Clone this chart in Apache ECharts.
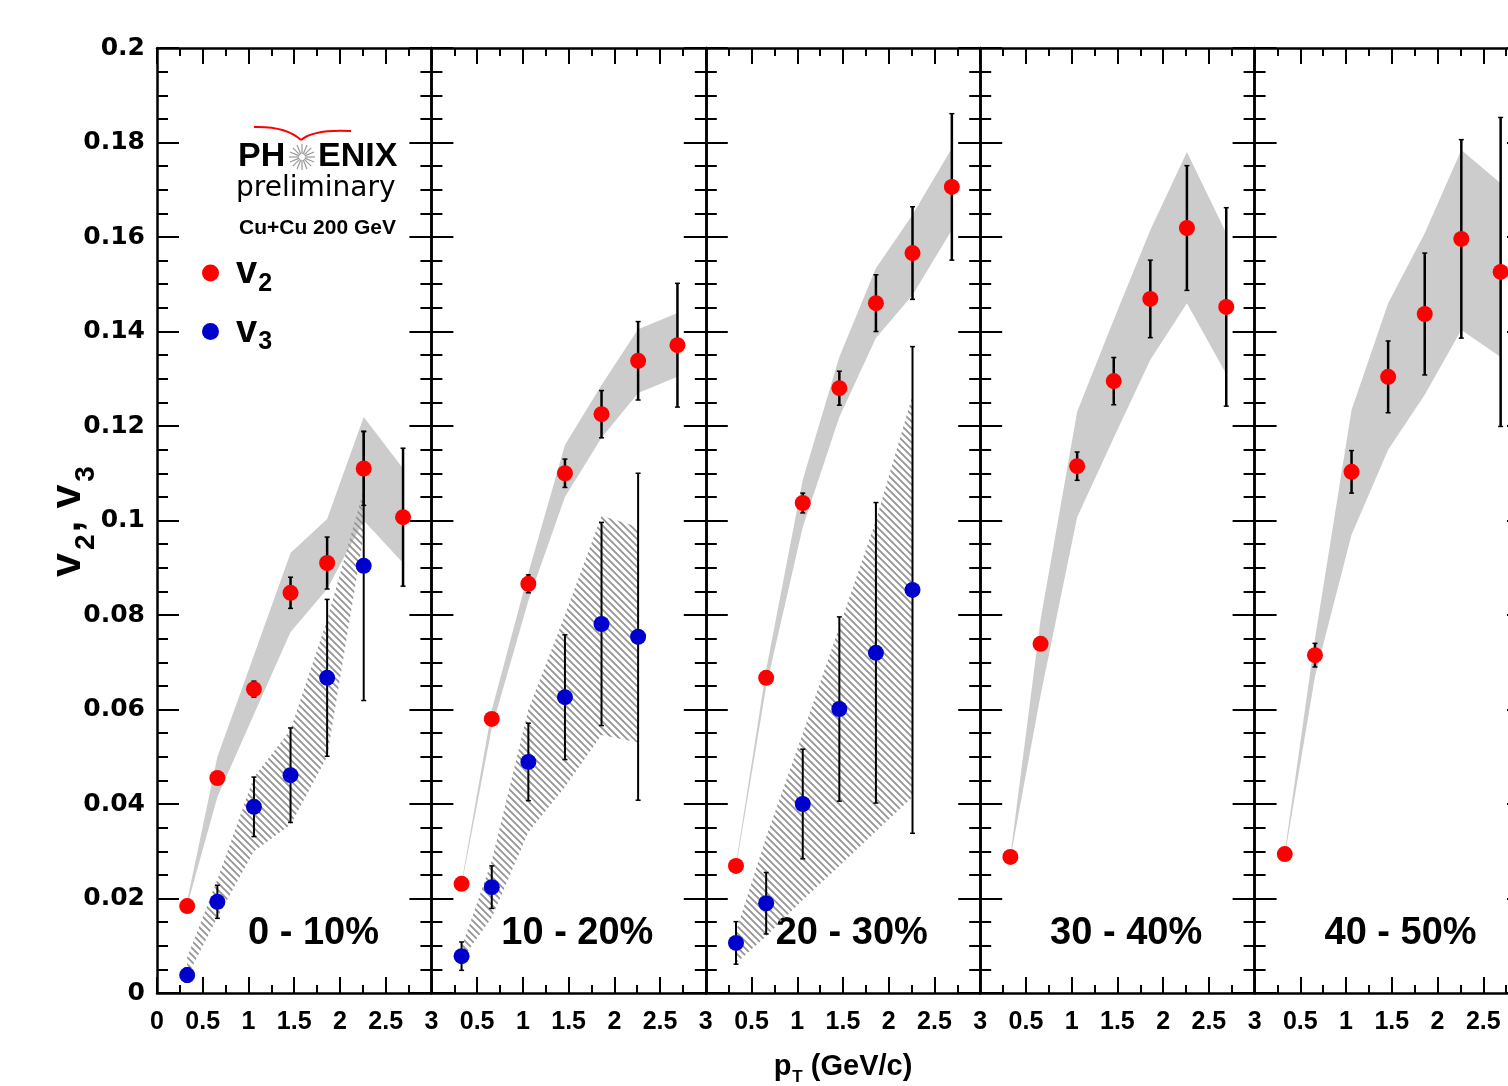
<!DOCTYPE html>
<html>
<head>
<meta charset="utf-8">
<script src="https://cdn.jsdelivr.net/npm/echarts@6/dist/echarts.min.js"></script>
<style>
  html, body { margin: 0; padding: 0; background: #fff; }
  #chart { width: 1508px; height: 1086px; }
</style>
</head>
<body>
<div id="chart"></div>
<script>
// pT bin centres (GeV/c), shared by all centrality classes
const PT = [0.33, 0.66, 1.06, 1.46, 1.86, 2.26, 2.69];
const CENTRALITY = ['0 - 10%', '10 - 20%', '20 - 30%', '30 - 40%', '40 - 50%'];

// v2 points, stat errors and systematic band, one row per centrality
const V2 = [
  [0.0184, 0.0455, 0.0643, 0.0847, 0.0910, 0.1110, 0.1007],
  [0.0231, 0.0580, 0.0866, 0.1100, 0.1225, 0.1338, 0.1371],
  [0.0269, 0.0667, 0.1037, 0.1280, 0.1460, 0.1566, 0.1706],
  [0.0288, 0.0739, 0.1115, 0.1295, 0.1469, 0.1619, 0.1452],
  [0.0294, 0.0715, 0.1103, 0.1304, 0.1437, 0.1596, 0.1526]
];
const V2_ERR = [
  [0.0010, 0.0010, 0.0017, 0.0033, 0.0055, 0.0078, 0.0146],
  [0.0010, 0.0010, 0.0019, 0.0030, 0.0050, 0.0083, 0.0131],
  [0.0010, 0.0010, 0.0021, 0.0036, 0.0060, 0.0098, 0.0155],
  [0.0010, 0.0010, 0.0030, 0.0050, 0.0082, 0.0132, 0.0210],
  [0.0010, 0.0025, 0.0045, 0.0076, 0.0129, 0.0210, 0.0327]
];
const V2_SYS_LO = [
  [0.0185, 0.0415, 0.0590, 0.0764, 0.0855, 0.1000, 0.0910],
  [0.0228, 0.0561, 0.0830, 0.1050, 0.1175, 0.1270, 0.1304],
  [0.0265, 0.0648, 0.0986, 0.1219, 0.1386, 0.1477, 0.1615],
  [0.0285, 0.0630, 0.1007, 0.1175, 0.1340, 0.1460, 0.1310],
  [0.0290, 0.0670, 0.0970, 0.1150, 0.1266, 0.1403, 0.1346]
];
const V2_SYS_HI = [
  [0.0195, 0.0500, 0.0715, 0.0931, 0.1003, 0.1219, 0.1110],
  [0.0234, 0.0599, 0.0889, 0.1160, 0.1287, 0.1405, 0.1439],
  [0.0273, 0.0684, 0.1086, 0.1346, 0.1534, 0.1647, 0.1788],
  [0.0291, 0.0790, 0.1230, 0.1425, 0.1615, 0.1780, 0.1608],
  [0.0298, 0.0750, 0.1234, 0.1460, 0.1608, 0.1784, 0.1714]
];

// v3 (only measured in the three most central classes)
const V3 = [
  [0.0038, 0.0193, 0.0394, 0.0461, 0.0667, 0.0904],
  [0.0078, 0.0224, 0.0489, 0.0626, 0.0781, 0.0754],
  [0.0106, 0.0190, 0.0400, 0.0601, 0.0720, 0.0853]
];
const V3_ERR = [
  [0.0015, 0.0035, 0.0063, 0.0100, 0.0166, 0.0285],
  [0.0030, 0.0045, 0.0082, 0.0132, 0.0215, 0.0346],
  [0.0045, 0.0065, 0.0116, 0.0195, 0.0318, 0.0515]
];
const V3_SYS_LO = [
  [0.0035, 0.0160, 0.0300, 0.0356, 0.0500, 0.0970],
  [0.0070, 0.0160, 0.0340, 0.0436, 0.0546, 0.0530],
  [0.0063, 0.0120, 0.0197, 0.0269, 0.0342, 0.0415]
];
const V3_SYS_HI = [
  [0.0075, 0.0240, 0.0457, 0.0557, 0.0790, 0.1065],
  [0.0097, 0.0280, 0.0600, 0.0800, 0.1010, 0.0986],
  [0.0130, 0.0330, 0.0550, 0.0775, 0.1000, 0.1265]
];

const PANEL_LEFT = 157;
const PANEL_W = 274.4;
const PANEL_TOP = 48;
const PANEL_H = 945;

const RED = '#ff0000';
const BLUE = '#0000cc';
const BAND_GRAY = '#cccccc';
const BOLD = '"Liberation Sans", Arial, sans-serif';

// hatch pattern for the v3 systematic band
const hatch = document.createElement('canvas');
hatch.width = 7;
hatch.height = 7;
(function () {
  const ctx = hatch.getContext('2d');
  ctx.strokeStyle = '#959595';
  ctx.lineWidth = 1.8;
  ctx.beginPath();
  ctx.moveTo(-1, -1); ctx.lineTo(8, 8);
  ctx.moveTo(-8, -1); ctx.lineTo(1, 8);
  ctx.moveTo(6, -1); ctx.lineTo(15, 8);
  ctx.stroke();
})();

const chart = echarts.init(document.getElementById('chart'));

const axisLine = { onZero: false, lineStyle: { color: '#000', width: 2.5 } };

function bandSeries(i, lo, hi, fill, z) {
  const n = lo.length;
  return {
    type: 'custom',
    xAxisIndex: 2 * i,
    yAxisIndex: 2 * i,
    z,
    silent: true,
    data: lo.map((v, k) => [PT[k], v, hi[k]]),
    renderItem: (params, api) => {
      if (params.dataIndex !== 0) return null;
      const pts = [];
      for (let k = 0; k < n; k++) pts.push(api.coord([api.value(0, k), api.value(2, k)]));
      for (let k = n - 1; k >= 0; k--) pts.push(api.coord([api.value(0, k), api.value(1, k)]));
      return { type: 'polygon', shape: { points: pts }, style: { fill, stroke: null } };
    }
  };
}

function errorSeries(i, vals, errs, width, z) {
  return {
    type: 'custom',
    xAxisIndex: 2 * i,
    yAxisIndex: 2 * i,
    z,
    silent: true,
    data: vals.map((v, k) => [PT[k], v, errs[k]]),
    renderItem: (params, api) => {
      const x = api.value(0), y = api.value(1), e = api.value(2);
      const top = api.coord([x, y + e]);
      const bot = api.coord([x, y - e]);
      const c = 2.5;
      const s = { stroke: '#000', lineWidth: 1.5 };
      return {
        type: 'group',
        children: [
          { type: 'line', shape: { x1: top[0], y1: top[1], x2: bot[0], y2: bot[1] }, style: { stroke: '#000', lineWidth: width } },
          { type: 'line', shape: { x1: top[0] - c, y1: top[1], x2: top[0] + c, y2: top[1] }, style: s },
          { type: 'line', shape: { x1: bot[0] - c, y1: bot[1], x2: bot[0] + c, y2: bot[1] }, style: s }
        ]
      };
    }
  };
}

function pointSeries(i, name, vals, color) {
  return {
    type: 'scatter',
    name,
    xAxisIndex: 2 * i,
    yAxisIndex: 2 * i,
    z: 10,
    symbol: 'circle',
    symbolSize: 16,
    itemStyle: { color, opacity: 1 },
    data: vals.map((v, k) => [PT[k], v])
  };
}

const grids = [];
const xAxes = [];
const yAxes = [];
const series = [];
const graphics = [];

CENTRALITY.forEach((label, i) => {
  const left = PANEL_LEFT + i * PANEL_W;
  grids.push({ left, top: PANEL_TOP, width: PANEL_W, height: PANEL_H, outerBoundsMode: 'none', containLabel: false });

  const xBase = {
    gridIndex: i, type: 'value', min: 0, max: 3, interval: 0.5,
    axisLine,
    axisTick: { inside: true, length: 16, lineStyle: { color: '#000', width: 2 } },
    minorTick: { show: true, splitNumber: 2, length: 8, lineStyle: { color: '#000', width: 2 } },
    splitLine: { show: false }
  };
  xAxes.push(Object.assign({}, xBase, {
    position: 'bottom',
    axisLabel: {
      margin: 17,
      color: '#000',
      fontFamily: '"Liberation Sans Narrow", "Liberation Sans", Arial, sans-serif',
      fontWeight: 'bold',
      fontSize: 25,
      formatter: v => (i > 0 && v === 0) ? '' : String(v)
    },
    name: i === 2 ? '{p|p}{s|T}{p| (GeV/c)}' : '',
    nameLocation: 'middle',
    nameGap: 54,
    nameTextStyle: {
      rich: {
        p: { fontFamily: BOLD, fontWeight: 'bold', fontSize: 29, color: '#000' },
        s: { fontFamily: BOLD, fontWeight: 'bold', fontSize: 17, color: '#000', padding: [22, 0, 0, 1] }
      }
    }
  }));
  xAxes.push(Object.assign({}, xBase, { position: 'top', axisLabel: { show: false } }));

  const yBase = {
    gridIndex: i, type: 'value', min: 0, max: 0.2, interval: 0.02,
    axisLine,
    axisTick: { inside: true, length: 22, lineStyle: { color: '#000', width: 2 } },
    minorTick: { show: true, splitNumber: 4, length: 11, lineStyle: { color: '#000', width: 2 } },
    splitLine: { show: false }
  };
  yAxes.push(Object.assign({}, yBase, {
    position: 'left',
    axisLabel: {
      show: i === 0,
      margin: 12,
      color: '#000',
      fontFamily: '"DejaVu Sans", Verdana, sans-serif',
      fontWeight: 'bold',
      fontSize: 25
    },
    name: i === 0 ? '{v|v}{s|2}{v|, v}{s|3}' : '',
    nameLocation: 'middle',
    nameRotate: 90,
    nameGap: 57,
    nameMoveOverlap: false,
    nameTextStyle: {
      rich: {
        v: { fontFamily: BOLD, fontWeight: 'bold', fontSize: 43, color: '#000' },
        s: { fontFamily: BOLD, fontWeight: 'bold', fontSize: 28, color: '#000', padding: [36, 2, 0, 3] }
      }
    }
  }));
  yAxes.push(Object.assign({}, yBase, { position: 'right', axisLabel: { show: false } }));

  series.push(bandSeries(i, V2_SYS_LO[i], V2_SYS_HI[i], BAND_GRAY, 1));
  if (i < V3.length) {
    series.push(bandSeries(i, V3_SYS_LO[i], V3_SYS_HI[i], { image: hatch, repeat: 'repeat' }, 2));
    series.push(errorSeries(i, V3[i], V3_ERR[i], 2, 4));
  }
  series.push(errorSeries(i, V2[i], V2_ERR[i], 2.5, 3));
  series.push(pointSeries(i, 'v2', V2[i], RED));
  if (i < V3.length) series.push(pointSeries(i, 'v3', V3[i], BLUE));

  graphics.push({
    type: 'text',
    x: left + 222,
    y: 934,
    style: {
      text: label,
      font: 'bold 38px ' + BOLD,
      fill: '#000',
      textAlign: 'right', align: 'right',
      textVerticalAlign: 'middle', verticalAlign: 'middle'
    }
  });
});

// PHENIX logo starburst
const starRays = [];
for (let k = 0; k < 16; k++) {
  const a = k * Math.PI / 8;
  starRays.push({
    type: 'line',
    shape: { x1: 302 + 3 * Math.cos(a), y1: 157 + 3 * Math.sin(a), x2: 302 + 13 * Math.cos(a), y2: 157 + 13 * Math.sin(a) },
    style: { stroke: '#9a9a9a', lineWidth: 1.2 }
  });
}

graphics.push(
  { type: 'bezierCurve', shape: { x1: 254, y1: 127, cpx1: 286, cpy1: 126, x2: 301, y2: 140 }, style: { stroke: RED, lineWidth: 2, fill: null } },
  { type: 'bezierCurve', shape: { x1: 301, y1: 140, cpx1: 314, cpy1: 129, x2: 351, y2: 131 }, style: { stroke: RED, lineWidth: 2, fill: null } },
  { type: 'group', children: starRays },
  { type: 'text', x: 238, y: 157, style: { text: 'PH', font: 'bold 34px ' + BOLD, fill: '#000', textVerticalAlign: 'middle', verticalAlign: 'middle' } },
  { type: 'text', x: 318, y: 157, style: { text: 'ENIX', font: 'bold 34px ' + BOLD, fill: '#000', textVerticalAlign: 'middle', verticalAlign: 'middle' } },
  { type: 'text', x: 236, y: 189, style: { text: 'preliminary', font: '28px "DejaVu Sans", Verdana, sans-serif', fill: '#000', textVerticalAlign: 'middle', verticalAlign: 'middle' } },
  { type: 'text', x: 239, y: 228, style: { text: 'Cu+Cu 200 GeV', font: 'bold 21px ' + BOLD, fill: '#000', textVerticalAlign: 'middle', verticalAlign: 'middle' } }
);

chart.setOption({
  animation: false,
  backgroundColor: '#fff',
  grid: grids,
  xAxis: xAxes,
  yAxis: yAxes,
  legend: {
    data: ['v2', 'v3'],
    orient: 'vertical',
    left: 197,
    top: 249,
    itemWidth: 17,
    itemHeight: 17,
    itemGap: 16,
    icon: 'circle',
    selectedMode: false,
    formatter: name => '{v|v}{s|' + name.slice(1) + '}',
    textStyle: {
      padding: [0, 0, 0, 12],
      rich: {
        v: { fontFamily: BOLD, fontWeight: 'bold', fontSize: 38, color: '#000' },
        s: { fontFamily: BOLD, fontWeight: 'bold', fontSize: 25, color: '#000', padding: [22, 0, 0, 1] }
      }
    }
  },
  graphic: graphics,
  series
});
</script>
</body>
</html>
